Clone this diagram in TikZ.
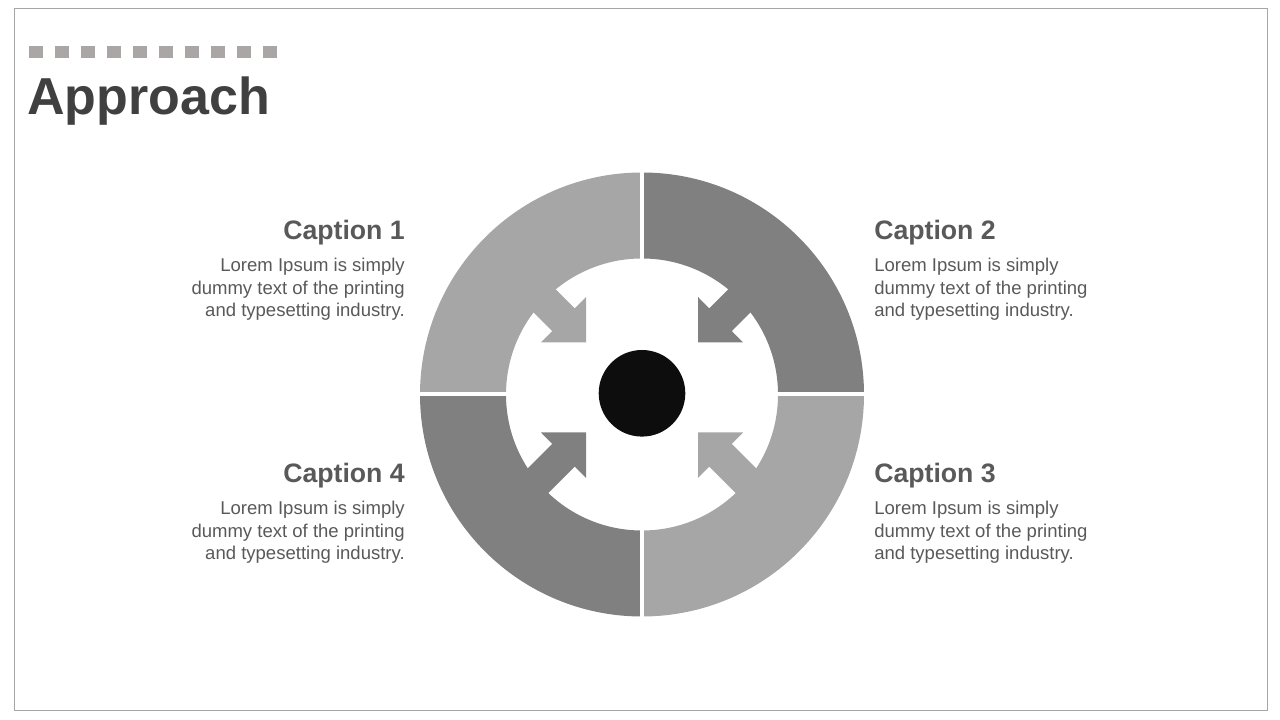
\documentclass[tikz,border=0pt]{standalone}
\usepackage{fontspec}
\setmainfont{Liberation Sans}
\usetikzlibrary{calc}
\definecolor{quadlight}{RGB}{166,166,166}
\definecolor{quaddark}{RGB}{128,128,128}
\definecolor{dotgray}{RGB}{170,166,166}
\definecolor{titlegray}{RGB}{64,64,64}
\definecolor{textgray}{RGB}{89,89,89}
\definecolor{framegray}{RGB}{166,166,166}
\definecolor{hubblack}{RGB}{13,13,13}

\begin{document}
\begin{tikzpicture}[x=0.75pt,y=0.75pt,
    captxt/.style={font=\fontsize{20pt}{24pt}\selectfont\bfseries, text=textgray, inner sep=0pt},
    bodytxt/.style={font=\fontsize{13.9pt}{16.9pt}\selectfont, text=textgray, inner sep=0pt}]
    \useasboundingbox (0,0) rectangle (1280,720);
    \draw[framegray, line width=0.75pt] (14,9) rectangle (1267,711); % frame
    % row of little squares above the title
    \foreach \k in {0,...,9}
        \fill[dotgray] (29+26*\k,662) rectangle ++(14,12);
    \node[anchor=base west, inner sep=0pt, font=\fontsize{39pt}{44pt}\selectfont\bfseries, text=titlegray] (title) at (27,605) {Approach};
    % ring in four quarters
    \coordinate (c) at (642,325.5);
    \foreach \a/\col in {90/quadlight, 0/quaddark, -90/quadlight, 180/quaddark}
        \fill[\col] ($(c)+(\a:222)$) arc[start angle=\a, delta angle=90, radius=222]
            -- ($(c)+(\a+90:136)$) arc[start angle=\a+90, delta angle=-90, radius=136] -- cycle;
    % arrows pointing to the hub
    \foreach \sx/\sy/\col in {1/1/quadlight, -1/1/quaddark, -1/-1/quadlight, 1/-1/quaddark}{
        \begin{scope}[shift={(642,332.5)}, xscale=\sx, yscale=\sy]
            \fill[\col] (-56,45) -- (-56,90.5) -- (-67.2,79.05) -- (-109.6,121.45)
                -- (-132.2,98.85) -- (-89.8,56.45) -- (-101,45) -- cycle;
        \end{scope}
    }
    % white gaps between the quarters
    \draw[white, line width=3pt] ($(c)+(0,-225)$) -- ($(c)+(0,225)$);
    \draw[white, line width=3pt] ($(c)+(-225,0)$) -- ($(c)+(225,0)$);
    \fill[hubblack] (642,326.7) circle[radius=43.3]; % hub
    % captions
    \node[captxt, anchor=base east] (cap1) at (405,480) {Caption 1};
    \node[bodytxt, anchor=north east, align=right] (txt1) at (405,462) {Lorem Ipsum is simply\\dummy text of the printing\\and typesetting industry.};
    \node[captxt, anchor=base west] (cap2) at (874,480) {Caption 2};
    \node[bodytxt, anchor=north west, align=left] (txt2) at (874,462) {Lorem Ipsum is simply\\dummy text of the printing\\and typesetting industry.};
    \node[captxt, anchor=base west] (cap3) at (874,237) {Caption 3};
    \node[bodytxt, anchor=north west, align=left] (txt3) at (874,219) {Lorem Ipsum is simply\\dummy text of the printing\\and typesetting industry.};
    \node[captxt, anchor=base east] (cap4) at (405,237) {Caption 4};
    \node[bodytxt, anchor=north east, align=right] (txt4) at (405,219) {Lorem Ipsum is simply\\dummy text of the printing\\and typesetting industry.};
\end{tikzpicture}
\end{document}
